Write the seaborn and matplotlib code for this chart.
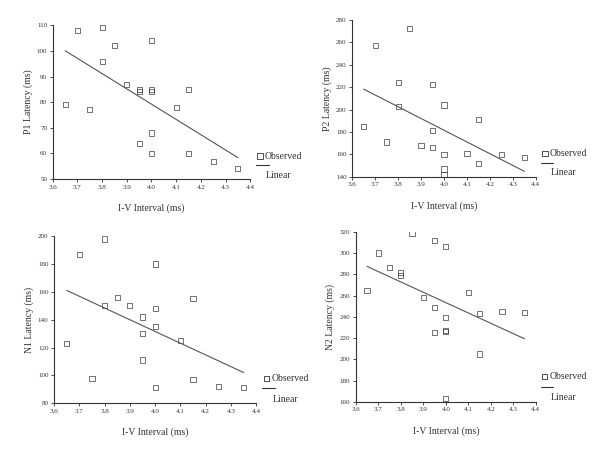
import matplotlib
matplotlib.use('Agg')
import matplotlib.pyplot as plt
import seaborn as sns
import pandas as pd
from matplotlib.lines import Line2D

sns.set_theme(style='ticks')
plt.rcParams['font.family'] = ['Liberation Serif', 'DejaVu Serif']

# I-V interval values and latencies
iv_p1 = [3.65, 3.70, 3.75, 3.80, 3.80, 3.85, 3.90, 3.95, 3.95, 3.95,
         4.00, 4.00, 4.00, 4.00, 4.00, 4.10, 4.15, 4.15, 4.25, 4.35]
p1 = [79, 108, 77, 109, 96, 102, 87, 85, 84, 64,
      104, 85, 84, 68, 60, 78, 85, 60, 57, 54]

iv_p2 = [3.65, 3.70, 3.75, 3.80, 3.80, 3.85, 3.90, 3.95, 3.95, 3.95,
         4.00, 4.00, 4.00, 4.00, 4.10, 4.15, 4.15, 4.25, 4.35]
p2 = [185, 257, 171, 224, 203, 272, 168, 222, 181, 166,
      204, 160, 147, 142, 161, 191, 152, 160, 157]

iv_n1 = [3.65, 3.70, 3.75, 3.80, 3.80, 3.85, 3.90, 3.95, 3.95, 3.95,
         4.00, 4.00, 4.00, 4.00, 4.10, 4.15, 4.15, 4.25, 4.35]
n1 = [123, 187, 98, 198, 150, 156, 150, 142, 130, 111,
      180, 148, 135, 91, 125, 155, 97, 92, 91]

iv_n2 = [3.65, 3.70, 3.75, 3.80, 3.80, 3.85, 3.90, 3.95, 3.95, 3.95,
         4.00, 4.00, 4.00, 4.00, 4.00, 4.10, 4.15, 4.15, 4.25, 4.35]
n2 = [265, 300, 286, 282, 279, 318, 258, 312, 249, 225,
      306, 239, 227, 226, 163, 263, 243, 205, 245, 244]

x_ticks = [3.6, 3.7, 3.8, 3.9, 4.0, 4.1, 4.2, 4.3, 4.4]

panels = [
    (iv_p1, p1, 'P1 Latency (ms)', (50, 110), range(50, 111, 10), [0.088, 0.602, 0.329, 0.342]),
    (iv_p2, p2, 'P2 Latency (ms)', (140, 280), range(140, 281, 20), [0.587, 0.607, 0.306, 0.349]),
    (iv_n1, n1, 'N1 Latency (ms)', (80, 200), range(80, 201, 20), [0.090, 0.104, 0.337, 0.371]),
    (iv_n2, n2, 'N2 Latency (ms)', (160, 320), range(160, 321, 20), [0.593, 0.107, 0.300, 0.378]),
]

fig = plt.figure(figsize=(6, 4.5), dpi=100)
ink = '#333333'

for xs, ys, ylabel, ylim, yticks, pos in panels:
    ax = fig.add_axes(pos)
    df = pd.DataFrame({'iv': xs, 'lat': ys})
    sns.regplot(data=df, x='iv', y='lat', ax=ax, ci=None, marker='s',
                scatter_kws=dict(s=14, facecolors='none', edgecolors=ink, linewidths=0.6),
                line_kws=dict(color='#555555', lw=0.8))
    ax.set_xlim(3.6, 4.4)
    ax.set_ylim(*ylim)
    ax.set_xticks(x_ticks)
    ax.set_xticklabels([f'{t:.1f}' for t in x_ticks])
    ax.set_yticks(list(yticks))
    ax.tick_params(labelsize=5, length=2, width=0.6, pad=2, colors=ink)
    for s in ['left', 'bottom']:
        ax.spines[s].set_linewidth(0.8)
        ax.spines[s].set_color(ink)
    sns.despine(ax=ax)
    ax.set_xlabel('I-V Interval (ms)', fontsize=7, labelpad=10, color=ink)
    ax.set_ylabel(ylabel, fontsize=7, labelpad=3, color=ink)

    # SPSS-style legend at the right
    ax.scatter([1.05], [0.15], transform=ax.transAxes, marker='s', s=14,
               facecolors='none', edgecolors=ink, linewidths=0.6, clip_on=False)
    ax.text(1.075, 0.15, 'Observed', transform=ax.transAxes, fontsize=7,
            va='center', ha='left', color=ink)
    ax.add_line(Line2D([1.03, 1.095], [0.09, 0.09], transform=ax.transAxes,
                       color=ink, lw=0.8, clip_on=False))
    ax.text(1.08, 0.025, 'Linear', transform=ax.transAxes, fontsize=7,
            va='center', ha='left', color=ink)

fig.savefig('out.png', dpi=100)
